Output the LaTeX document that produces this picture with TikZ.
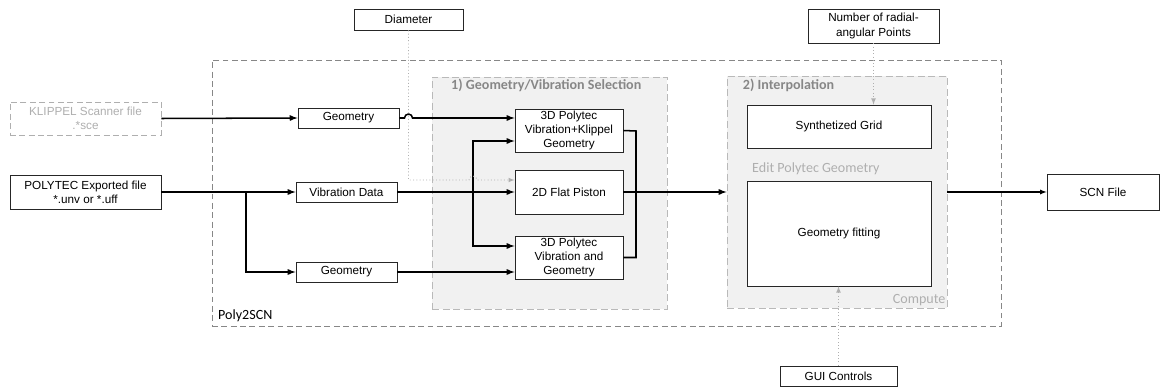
\documentclass[tikz,border=0pt]{standalone}
\usepackage{fontspec}
\setmainfont{Liberation Sans}
\newfontfamily\calibri{Carlito}
\usetikzlibrary{calc}
\definecolor{panelfill}{RGB}{241,241,241}
\definecolor{panelline}{RGB}{185,185,185}
\definecolor{framegray}{RGB}{135,135,135}
\definecolor{titlegray}{RGB}{135,135,135}
\definecolor{softgray}{RGB}{175,175,175}
\tikzset{
    block/.style={draw=black!85, rectangle, line width=0.7pt, fill=white, text centered, align=center, inner sep=0pt, font=\fontsize{10}{12}\selectfont},
    ghost/.style={block, draw=softgray, dashed, dash pattern=on 5pt off 3pt, text=softgray},
    panel/.style={draw=panelline, fill=panelfill, dash pattern=on 6pt off 3pt, line width=0.7pt, inner sep=0pt},
    frame/.style={draw=framegray, dash pattern=on 5pt off 3pt, line width=0.8pt, inner sep=0pt},
    title/.style={font=\calibri\bfseries\fontsize{12}{14}\selectfont, text=titlegray, anchor=west, inner sep=0pt},
    arr/.style={->, >=latex, line width=1.3pt},
    dotarr/.style={->, >=latex, dotted, draw=softgray, line width=0.8pt}
}

\begin{document}
\begin{tikzpicture}
        \useasboundingbox (0,0) rectangle (34.83,-11.61);

        % Outer frame and panels
        \node [frame, minimum width=23.67cm, minimum height=7.98cm] (poly) at (18.195,-5.79) {};
        \node [anchor=west, inner sep=0pt, font=\calibri\fontsize{12}{14}\selectfont] (polylabel) at (6.54,-9.47) {Poly2SCN};
        \node [panel, minimum width=7.05cm, minimum height=6.96cm] (select) at (16.485,-5.79) {};
        \node [title] (selecttitle) at (13.53,-2.55) {1) Geometry/Vibration Selection};
        \node [panel, minimum width=6.6cm, minimum height=6.96cm] (interp) at (25.11,-5.76) {};
        \node [title] (interptitle) at (22.28,-2.55) {2) Interpolation};
        \node [title, font=\calibri\fontsize{12}{14}\selectfont, text=softgray] (editlabel) at (22.56,-5.05) {Edit Polytec Geometry};
        \node [title, anchor=east, font=\calibri\fontsize{12}{14}\selectfont, text=softgray] (computelabel) at (28.37,-9.0) {Compute};

        % Input files
        \node [ghost, minimum width=4.53cm, minimum height=0.99cm] (klippel) at (2.565,-3.555) {KLIPPEL Scanner file\\.*sce};
        \node [block, minimum width=4.53cm, minimum height=1.02cm] (polytec) at (2.565,-5.76) {POLYTEC Exported file\\*.unv or *.uff};

        % Extracted data
        \node [block, minimum width=3.03cm, minimum height=0.6cm] (geomtop) at (10.455,-3.54) {Geometry};
        \node [block, minimum width=3.03cm, minimum height=0.6cm] (vibdata) at (10.395,-5.76) {Vibration Data};
        \node [block, minimum width=3.03cm, minimum height=0.6cm] (geombot) at (10.395,-8.16) {Geometry};

        % Parameters
        \node [block, minimum width=3.27cm, minimum height=0.63cm] (diameter) at (12.255,-0.585) {Diameter};
        \node [block, minimum width=3.93cm, minimum height=1.02cm] (radial) at (26.205,-0.78) {Number of radial-\\angular Points};
        \node [block, minimum width=3.51cm, minimum height=0.6cm] (gui) at (25.155,-11.28) {GUI Controls};

        % Selection
        \node [block, minimum width=3.24cm, minimum height=1.29cm] (polyklip) at (17.07,-3.915) {3D Polytec\\Vibration+Klippel\\Geometry};
        \node [block, minimum width=3.24cm, minimum height=1.32cm] (piston) at (17.07,-5.76) {2D Flat Piston};
        \node [block, minimum width=3.24cm, minimum height=1.29cm] (polygeom) at (17.07,-7.725) {3D Polytec\\Vibration and\\Geometry};

        % Interpolation
        \node [block, minimum width=5.52cm, minimum height=1.29cm] (grid) at (25.17,-3.795) {Synthetized Grid};
        \node [block, minimum width=5.52cm, minimum height=3.15cm] (fitting) at (25.17,-7.005) {Geometry fitting};

        % Output
        \node [block, minimum width=3.36cm, minimum height=1.08cm] (scn) at (33.09,-5.76) {SCN File};

        % Branch points
        \coordinate (pbranch) at (7.38,-5.76);
        \coordinate (vbranch) at (14.19,-5.76);
        \coordinate (collect) at (19.08,-3.93);
        \coordinate (dbend) at (12.255,-5.4);

        % Arrows
        \draw [arr] (klippel.east) -- (geomtop.west);
        \draw [arr] (polytec.east) -- (vibdata.west);
        \draw [arr] (pbranch) |- (geombot.west);
        \draw [arr] (geomtop.east) -- ([xshift=-0.12cm]geomtop.east -| diameter.south)
            arc [start angle=180, end angle=0, radius=0.12cm] -- (geomtop.east -| polyklip.west);
        \draw [arr] (vibdata.east) -- (piston.west);
        \draw [arr] (vbranch) |- ([yshift=-0.315cm]polyklip.west);
        \draw [arr] (vbranch) |- ([yshift=0.345cm]polygeom.west);
        \draw [arr] (geombot.east) -- (geombot.east -| polygeom.west);
        \draw [line width=1.3pt] (polyklip.east) -- (collect) |- (polygeom.east);
        \draw [arr] (piston.east) -- (piston.east -| interp.west);
        \draw [->, >=latex, line width=0.9pt] (interp.east |- scn.west) -- (scn.west);

        % Parameter links
        \draw [dotarr] (diameter.south) -- (dbend) -- ([xshift=-0.12cm]dbend -| vbranch)
            arc [start angle=180, end angle=0, radius=0.12cm] -- (dbend -| piston.west);
        \draw [dotarr] (radial.south) -- (radial.south |- grid.north);
        \draw [dotarr] (gui.north) -- (gui.north |- fitting.south);
\end{tikzpicture}
\end{document}
